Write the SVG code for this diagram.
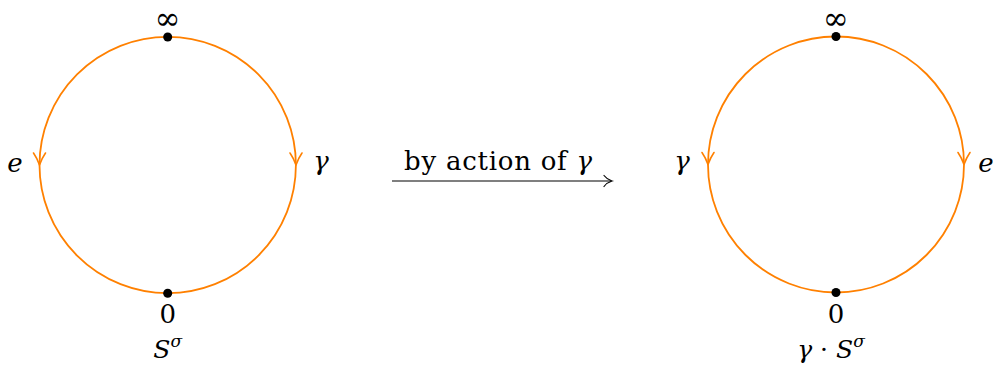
<svg xmlns="http://www.w3.org/2000/svg" width="993" height="365" viewBox="0 0 993 365">
<style>
.circ{fill:none;stroke:#ff8000;stroke-width:1.8}
.chev{fill:none;stroke:#ff8000;stroke-width:1.6;stroke-linecap:round;stroke-linejoin:round}
.dot{fill:#000}
text{font-family:"DejaVu Serif","Liberation Serif",serif;fill:#000;text-anchor:middle}
.i{font-style:italic}
.conn{fill:none;stroke:#000;stroke-width:1.2}
</style>
<rect width="993" height="365" fill="#fff"/>
<g id="left-circle">
<circle class="circ" cx="167.7" cy="165" r="128.2"/>
<path class="chev" d="M33.5 153 Q37 158 39.5 165 Q42 158 45.5 153"/>
<path class="chev" d="M290 153 Q293.5 158 296 165 Q298.5 158 302 153"/>
<circle class="dot" cx="167.7" cy="37" r="4.5"/>
<circle class="dot" cx="167.7" cy="293.3" r="4.5"/>
<text x="167.7" y="29" font-size="31">∞</text>
<text class="i" x="15" y="172" font-size="26">e</text>
<text class="i" x="321" y="170" font-size="26">γ</text>
<text x="167.7" y="323" font-size="26">0</text>
<text x="167.7" y="358" font-size="25"><tspan class="i">S</tspan><tspan class="i" font-size="17" dy="-11">σ</tspan></text>
</g>
<g id="right-circle">
<circle class="circ" cx="836" cy="164.5" r="128"/>
<path class="chev" d="M702 152.5 Q705.5 157.5 708 164.5 Q710.5 157.5 714 152.5"/>
<path class="chev" d="M958 152.5 Q961.5 157.5 964 164.5 Q966.5 157.5 970 152.5"/>
<circle class="dot" cx="836" cy="36.5" r="4.5"/>
<circle class="dot" cx="836" cy="292.5" r="4.5"/>
<text x="836" y="28.5" font-size="31">∞</text>
<text class="i" x="682" y="170" font-size="26">γ</text>
<text class="i" x="986" y="172" font-size="26">e</text>
<text x="836" y="322.5" font-size="26">0</text>
<text x="831" y="358" font-size="25"><tspan class="i">γ</tspan> · <tspan class="i">S</tspan><tspan class="i" font-size="17" dy="-11">σ</tspan></text>
</g>
<g id="connectors">
<line class="conn" x1="392" y1="181" x2="611" y2="181"/>
<path class="conn" d="M604 175.5 Q607 179.5 612 181 Q607 182.5 604 186.5" stroke-linecap="round"/>
<text x="498" y="170" font-size="26" textLength="188" lengthAdjust="spacing">by action of <tspan class="i">γ</tspan></text>
</g>
</svg>
